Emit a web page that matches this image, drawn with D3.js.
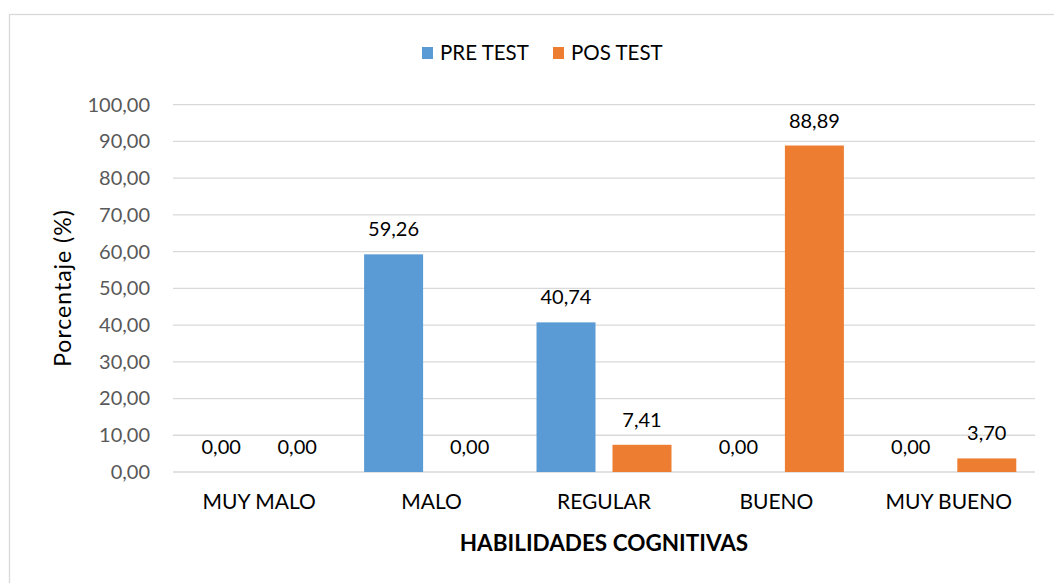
<!DOCTYPE html>
<html><head><meta charset="utf-8">
<script src="https://cdn.jsdelivr.net/npm/d3@7/dist/d3.min.js"></script>
<style>body{margin:0;background:#fff}svg{display:block}text{font-family:Lato,"Open Sans",sans-serif}</style>
</head><body><svg id="c" width="1054" height="583"></svg>
<script>
const categories = ["MUY MALO","MALO","REGULAR","BUENO","MUY BUENO"];
const seriesNames = ["PRE TEST","POS TEST"];
const preTest = [0.00, 59.26, 40.74, 0.00, 0.00];
const posTest = [0.00, 0.00, 7.41, 88.89, 3.70];
const yTicks = [0,10,20,30,40,50,60,70,80,90,100];
const colors = ["#5B9BD5","#ED7D31"];

const svg = d3.select("#c");
const m = {l:173, r:1035, t:104.7, b:472};
svg.append("rect").attr("x",9.5).attr("y",14.5).attr("width",1060).attr("height",600)
  .attr("fill","#fff").attr("stroke","#D9D9D9").attr("stroke-width",1.3);

const x0 = d3.scaleBand().domain(categories).range([m.l,m.r]).paddingInner(0.217).paddingOuter(0.1085);
const x1 = d3.scaleBand().domain(seriesNames).range([0,x0.bandwidth()]).paddingInner(0.2237);
const y = d3.scaleLinear().domain([0,100]).range([m.b,m.t]);
const fmt = v => v.toFixed(2).replace(".",",");

// gridlines
svg.append("g").selectAll("line").data(yTicks).join("line")
  .attr("x1",m.l).attr("x2",m.r).attr("y1",d=>y(d)).attr("y2",d=>y(d))
  .attr("stroke","#D9D9D9").attr("stroke-width",1.3);

// y axis labels
const ya = svg.append("g").attr("transform",`translate(${m.l},0)`)
  .call(d3.axisLeft(y).tickValues(yTicks).tickSize(0).tickPadding(23).tickFormat(fmt));
ya.select(".domain").remove();
ya.selectAll("text").attr("font-family","Lato").attr("font-size",20).attr("fill","#595959");

// x axis labels
const xa = svg.append("g").attr("transform",`translate(0,${m.b})`)
  .call(d3.axisBottom(x0).tickSize(0).tickPadding(22));
xa.select(".domain").remove();
xa.selectAll("text").attr("font-family","Lato").attr("font-size",21).attr("fill","#000");

const data = categories.map((c,i)=>({c, vals:[preTest[i],posTest[i]]}));
const g = svg.append("g").selectAll("g").data(data).join("g").attr("transform",d=>`translate(${x0(d.c)},0)`);
g.selectAll("rect").data(d=>d.vals.map((v,j)=>({v,j}))).join("rect")
  .attr("x",d=>x1(seriesNames[d.j])).attr("width",x1.bandwidth())
  .attr("y",d=>y(d.v)).attr("height",d=>y(0)-y(d.v)).attr("fill",d=>colors[d.j]);
g.selectAll("text.lbl").data(d=>d.vals.map((v,j)=>({v,j}))).join("text").attr("class","lbl")
  .attr("x",d=>x1(seriesNames[d.j])+x1.bandwidth()/2).attr("y",d=>y(d.v)-18)
  .attr("text-anchor","middle").attr("font-size",20).attr("fill","#000").text(d=>fmt(d.v));

// axis titles
svg.append("text").attr("x",604).attr("y",551).attr("text-anchor","middle")
  .attr("font-size",22.5).attr("font-weight","bold").attr("fill","#000").text("HABILIDADES COGNITIVAS");
svg.append("text").attr("transform","translate(71,288) rotate(-90)").attr("text-anchor","middle")
  .attr("font-family","Lato").attr("font-size",23).attr("letter-spacing",1).attr("fill","#000").text("Porcentaje (%)");

// legend
const leg = svg.append("g");
const lx = [422, 553];
seriesNames.forEach((s,i)=>{
  leg.append("rect").attr("x",lx[i]).attr("y",47).attr("width",11).attr("height",12).attr("fill",colors[i]);
  leg.append("text").attr("x",lx[i]+18).attr("y",60).attr("font-size",20.5).attr("fill","#000").text(s);
});
</script></body></html>
